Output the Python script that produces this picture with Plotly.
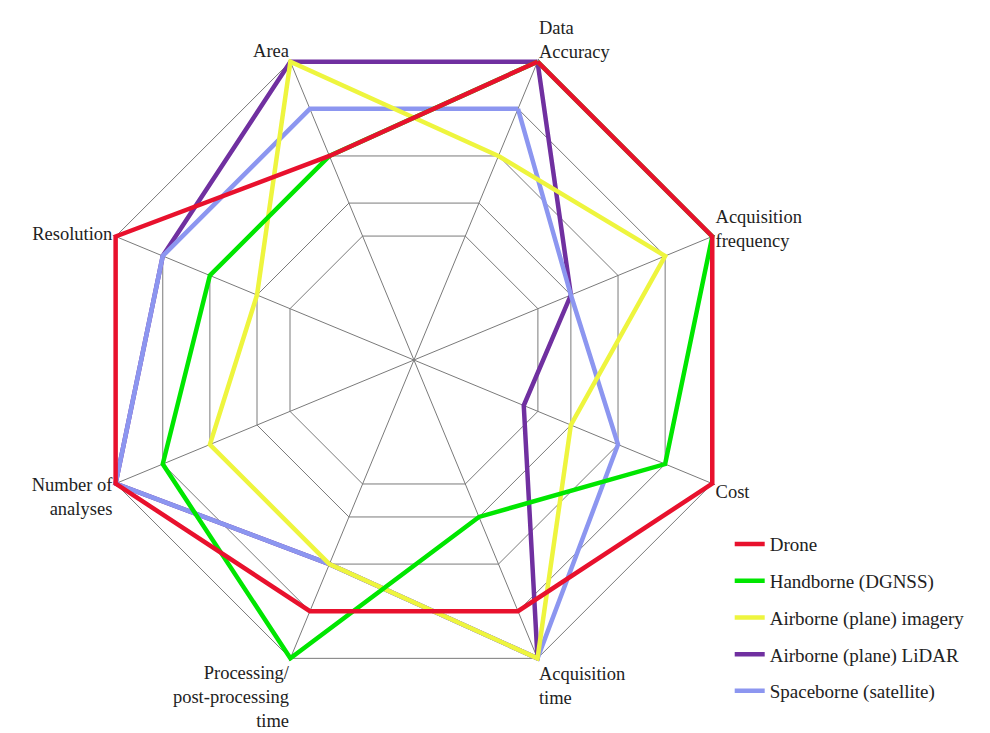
import plotly.graph_objects as go

categories = ["Data<br>Accuracy", "Acquisition<br>frequency", "Cost", "Acquisition<br>time",
              "Processing/<br>post-processing<br>time", "Number of<br>analyses", "Resolution", "Area"]

drone = [5, 5, 5, 4, 4, 5, 5, 3]
handborne = [5, 5, 4, 2, 5, 4, 3, 3]
airborne_imagery = [3, 4, 2, 5, 3, 3, 2, 5]
airborne_lidar = [5, 2, 1, 5, 3, 5, 4, 5]
spaceborne = [4, 2, 3, 5, 3, 5, 4, 4]

# drawn bottom -> top; legend ordered by rank
series = [
    ("Airborne (plane) LiDAR", airborne_lidar, "#7030A0", 4),
    ("Spaceborne (satellite)", spaceborne, "#8C96F0", 5),
    ("Airborne (plane) imagery", airborne_imagery, "#EEF53E", 3),
    ("Handborne (DGNSS)", handborne, "#00E600", 2),
    ("Drone", drone, "#E8112D", 1),
]

# ring 1 sits a bit further out than an even spacing would place it
ring_vals = [1.3, 2, 3, 4, 5]

FONT = "Liberation Serif"
GRID = "#7a7a7a"
TEXT = "#222222"

fig = go.Figure()
for name, vals, color, rank in series:
    fig.add_trace(go.Scatterpolar(
        r=vals + vals[:1],
        theta=categories + categories[:1],
        mode="lines",
        name=name,
        line=dict(color=color, width=4.5),
        legendrank=rank,
        legendgroup=name,
        cliponaxis=False,
    ))

fig.update_layout(
    width=990, height=733,
    margin=dict(l=0, r=0, t=0, b=0),
    paper_bgcolor="white",
    font=dict(family=FONT, size=19, color=TEXT),
    polar=dict(
        domain=dict(x=[0.0808, 0.7393], y=[0.0750, 0.9645]),
        bgcolor="white",
        gridshape="linear",
        radialaxis=dict(
            range=[-1.33, 5.06],
            tickvals=ring_vals,
            showticklabels=False,
            ticks="",
            showline=False,
            gridcolor=GRID,
            gridwidth=1,
            layer="below traces",
        ),
        angularaxis=dict(
            type="category",
            categoryarray=categories,
            direction="clockwise",
            rotation=67.5,
            showline=False,
            gridcolor=GRID,
            gridwidth=1,
            ticks="",
            layer="below traces",
            tickfont=dict(family=FONT, size=18.5, color=TEXT),
        ),
    ),
    legend=dict(
        x=0.729, y=0.2944, xanchor="left", yanchor="top",
        traceorder="grouped",
        tracegroupgap=9,
        font=dict(family=FONT, size=19, color=TEXT),
        bgcolor="rgba(0,0,0,0)",
        itemwidth=30,
    ),
)

fig.write_html("out.html")
